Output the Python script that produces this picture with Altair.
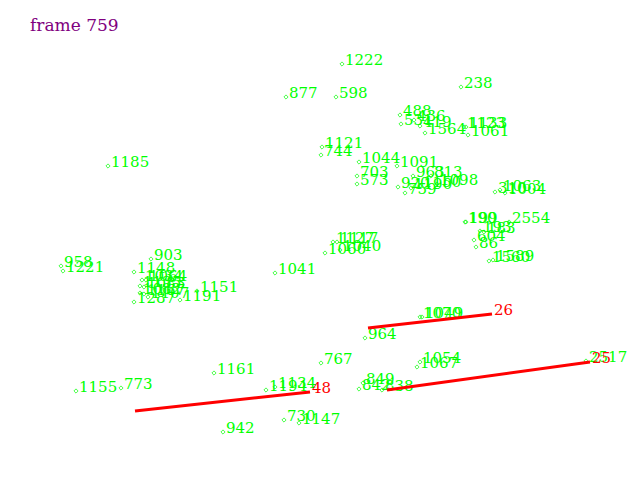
import pandas as pd
import altair as alt

# tracked points (id, x pixel, y pixel) for this frame
ids = ["1222", "877", "598", "238", "1121", "744", "1185", "1044", "1091", "703",
       "573", "963", "813", "920", "1190", "1150", "1098", "759", "488", "531",
       "436", "419", "1564", "1123", "1133", "1061", "310", "1063", "1004", "190",
       "199", "2554", "193", "183", "604", "86", "1560", "1589", "1127", "1117",
       "1060", "1040", "1041", "958", "1221", "903", "1148", "1034", "1064", "1135",
       "1083", "1082", "1167", "1287", "1107", "1191", "1151", "1155", "773", "1161",
       "767", "1194", "1134", "942", "730", "1147", "1070", "1049", "964", "1054",
       "1067", "2517", "849", "842", "838"]
px = [342, 286, 336, 461, 322, 321, 108, 359, 397, 357,
      357, 413, 431, 398, 411, 420, 437, 405, 400, 401,
      414, 420, 425, 464, 466, 468, 495, 500, 505, 465,
      466, 509, 480, 484, 474, 476, 489, 493, 333, 337,
      325, 340, 275, 61, 63, 151, 134, 142, 146, 140,
      144, 140, 144, 134, 148, 180, 197, 76, 121, 214,
      321, 266, 275, 223, 284, 299, 420, 422, 365, 420,
      417, 586, 363, 359, 382]
py = [64, 97, 97, 87, 147, 155, 166, 162, 166, 176,
      184, 176, 176, 187, 188, 186, 184, 193, 115, 124,
      120, 126, 133, 127, 127, 135, 192, 190, 193, 222,
      222, 222, 231, 232, 240, 247, 261, 260, 242, 242,
      253, 250, 273, 266, 271, 259, 272, 280, 280, 286,
      287, 293, 294, 302, 297, 300, 291, 391, 388, 373,
      363, 390, 387, 432, 420, 423, 317, 317, 338, 362,
      367, 361, 383, 389, 390]

# red tracks: start and end point
track_ids = ["48", "26", "25"]
x_start = [135, 368, 387]
y_start = [411, 328, 390]
x_end = [310, 492, 590]
y_end = [392, 314, 362]

pts = pd.DataFrame({"id": ids, "x": px, "y": py})
tracks = pd.DataFrame({"id": track_ids, "x": x_start, "y": y_start,
                       "x2": x_end, "y2": y_end})

xs = alt.Scale(domain=[8, 632])
ys = alt.Scale(domain=[8, 472], reverse=True)

base = alt.Chart(pts).encode(
    x=alt.X("x:Q", scale=xs, axis=None),
    y=alt.Y("y:Q", scale=ys, axis=None)
)

markers = base.mark_point(shape="diamond", filled=False, size=18,
                          strokeWidth=1, color="#00ff00")
labels = base.mark_text(align="left", baseline="alphabetic", dx=3, dy=1,
                        font="DejaVu Serif", fontSize=15, color="#00ff00"
                        ).encode(text="id")

lines = alt.Chart(tracks).mark_rule(color="#ff0000", strokeWidth=3).encode(
    x=alt.X("x:Q", scale=xs, axis=None),
    y=alt.Y("y:Q", scale=ys, axis=None),
    x2="x2",
    y2="y2"
)
red_labels = alt.Chart(tracks).mark_text(
    align="left", baseline="alphabetic", dx=2, dy=1,
    font="DejaVu Serif", fontSize=15, color="#ff0000"
).encode(
    x=alt.X("x2:Q", scale=xs, axis=None),
    y=alt.Y("y2:Q", scale=ys, axis=None),
    text="id"
)

frame = alt.Chart(pd.DataFrame({"t": ["frame 759"]})).mark_text(
    align="left", baseline="alphabetic", font="DejaVu Serif",
    fontSize=17, color="#800080"
).encode(x=alt.value(22), y=alt.value(23), text="t")

chart = alt.layer(markers, labels, lines, red_labels, frame).properties(
    width=624,
    height=464,
    padding=0,
    autosize=alt.AutoSizeParams(type="none")
).configure_view(stroke=None)

chart.save("out.html", embed_options={"renderer": "svg", "actions": False})
